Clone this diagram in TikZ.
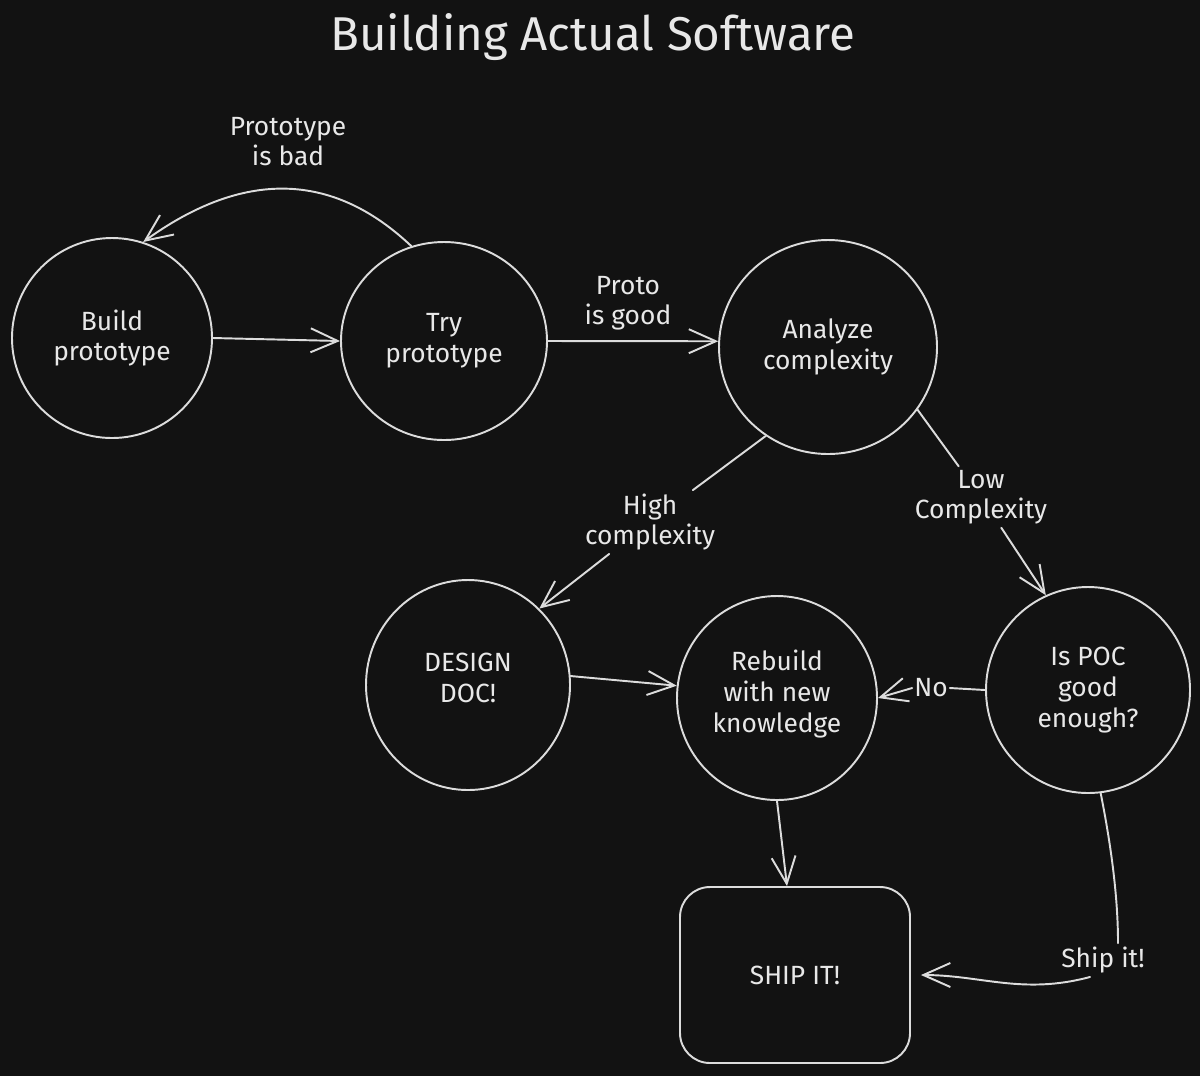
\documentclass[tikz,border=0pt]{standalone}
\usepackage{fontspec}
\setmainfont{Fira Sans}
\usetikzlibrary{shapes.geometric,arrows.meta,calc}
\definecolor{bgc}{HTML}{121212}
\definecolor{linec}{HTML}{DCDCDC}
\definecolor{textc}{HTML}{E8E8E8}
\tikzset{
  every picture/.style={x=0.2mm,y=-0.2mm},
  statenode/.style={ellipse, draw=linec, line width=1.1pt, align=center, text=textc,
    font=\fontsize{15}{17.6}\selectfont, inner sep=0pt},
  lbl/.style={align=center, text=textc, font=\fontsize{15}{17}\selectfont, inner sep=2pt},
  conn/.style={draw=linec, line width=1.1pt, line cap=round},
  arr/.style={conn, -{Straight Barb[length=5.4mm,width=4.8mm,line width=1.1pt]}},
}
\begin{document}
\begin{tikzpicture}
\fill[bgc] (0,0) rectangle (1200,1076);
\useasboundingbox (0,0) rectangle (1200,1076);

\node[text=textc, font=\fontsize{27}{30}\selectfont] (title) at (593,37) {Building Actual Software};

\node[statenode, minimum width=40mm, minimum height=40mm] (build) at (112,338) {Build\\prototype};
\node[statenode, minimum width=41.2mm, minimum height=39.6mm] (try) at (444,341) {Try\\prototype};
\node[statenode, minimum width=43.6mm, minimum height=42.8mm] (analyze) at (828,347) {Analyze\\complexity};
\node[statenode, minimum width=40.8mm, minimum height=42mm] (design) at (468,685) {DESIGN\\DOC!\\[-9pt]};
\node[statenode, minimum width=40mm, minimum height=40.8mm] (rebuild) at (777,698) {Rebuild\\with new\\knowledge\\[-10pt]};
\node[statenode, minimum width=40.8mm, minimum height=41.2mm] (poc) at (1088,690) {Is POC\\good\\enough?};
\node[draw=linec, line width=1.1pt, rounded corners=6mm, minimum width=46mm, minimum height=35.2mm,
  text=textc, font=\fontsize{15}{18}\selectfont] (ship) at (795,975) {SHIP IT!};

% labels
\node[lbl] (lblbad) at (288,142) {Prototype\\is bad};
\node[lbl] (lblhigh) at (650,522) {High\\complexity};
\node[lbl] (lbllow) at (981,497) {Low\\Complexity};
\node[lbl, inner sep=1pt] (lblno) at (931,688) {No};
\node[lbl] (lblship) at (1103,960) {Ship it!};

% connectors
\draw[arr] (build.east) -- (try.west);
\draw[arr] (try.109) .. controls (332,171) and (243,170) .. (build.72);
\draw[arr] (try.east) -- node[lbl, above=4pt, pos=0.47] (lblgood) {Proto\\is good} (analyze.177);
\draw[conn] (analyze.-125) -- (lblhigh);
\draw[arr] (lblhigh) -- (design.47);
\draw[conn] (analyze.-35) -- (lbllow);
\draw[arr] (lbllow) -- (poc.114);
\draw[arr] (design.5) -- (rebuild.173);
\draw[conn] (poc.west) -- (lblno.east);
\draw[arr] (lblno.west) -- (rebuild.east);
\draw[arr] (rebuild.south) -- ([xshift=-1.6mm]ship.north);
\draw[conn] (poc.-83) .. controls (1112,850) and (1118,900) .. ([xshift=3mm]lblship.north);
\draw[arr, shorten >=2mm] ([xshift=-2.6mm]lblship.south) to[out=195,in=0] (ship.east);
\end{tikzpicture}
\end{document}
